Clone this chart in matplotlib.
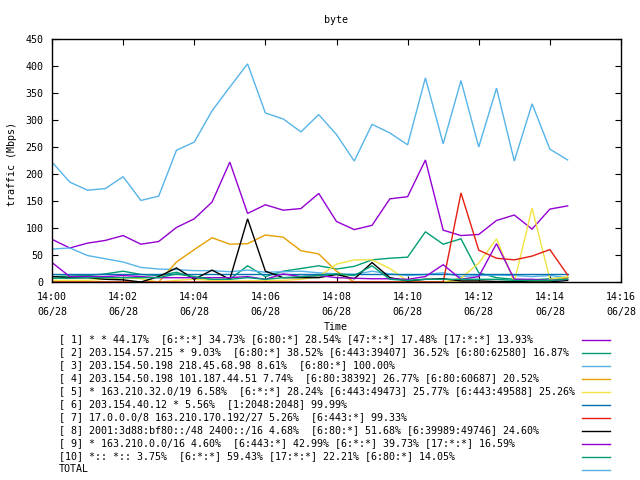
import matplotlib
matplotlib.use("Agg")
import matplotlib.pyplot as plt
from matplotlib.lines import Line2D

# ---- data -------------------------------------------------------------
times = ["14:00:00", "14:00:30", "14:01:00", "14:01:30", "14:02:00", "14:02:30",
         "14:03:00", "14:03:30", "14:04:00", "14:04:30", "14:05:00", "14:05:30",
         "14:06:00", "14:06:30", "14:07:00", "14:07:30", "14:08:00", "14:08:30",
         "14:09:00", "14:09:30", "14:10:00", "14:10:30", "14:11:00", "14:11:30",
         "14:12:00", "14:12:30", "14:13:00", "14:13:30", "14:14:00", "14:14:30"]

s1 = [79, 63, 72, 77, 86, 70, 75, 101, 117, 148, 222, 127, 143, 133, 136, 164,
      112, 97, 105, 154, 158, 226, 96, 86, 88, 114, 124, 98, 135, 141]
s2 = [10, 11, 12, 15, 20, 14, 12, 18, 8, 4, 5, 30, 10, 20, 25, 30,
      24, 29, 41, 44, 46, 93, 70, 80, 17, 8, 5, 4, 6, 8]
s3 = [61, 63, 49, 43, 37, 27, 24, 23, 21, 21, 19, 22, 18, 19, 20, 17,
      15, 14, 20, 15, 12, 14, 17, 10, 12, 13, 12, 10, 12, 8]
s4 = [0, 0, 0, 0, 0, 0, 0, 37, 60, 82, 70, 71, 87, 83, 58, 52,
      20, 0, 0, 0, 0, 0, 0, 0, 0, 0, 0, 0, 0, 8]
s5 = [3, 3, 3, 5, 8, 6, 0, 3, 5, 3, 2, 2, 3, 3, 5, 10,
      33, 41, 41, 25, 2, 0, 0, 7, 35, 80, 0, 137, 5, 10]
s6 = [15, 15, 15, 15, 15, 15, 15, 15, 15, 15, 15, 15, 15, 15, 15, 15,
      15, 15, 15, 15, 15, 15, 15, 15, 15, 15, 15, 15, 15, 15]
s7 = [0, 0, 0, 0, 0, 0, 0, 0, 0, 0, 0, 0, 0, 0, 0, 0,
      0, 0, 0, 0, 0, 0, 0, 165, 59, 44, 41, 48, 60, 13]
s8 = [10, 8, 8, 5, 4, 0, 10, 26, 5, 22, 5, 117, 20, 8, 8, 8,
      14, 6, 36, 8, 2, 5, 6, 2, 2, 1, 1, 0, 0, 3]
s9 = [36, 10, 10, 10, 12, 10, 8, 8, 8, 8, 8, 10, 5, 15, 10, 12,
      8, 7, 6, 6, 5, 10, 32, 5, 10, 71, 5, 5, 3, 5]
s10 = [7, 7, 8, 8, 8, 8, 8, 15, 10, 5, 5, 8, 5, 8, 10, 12,
       15, 12, 30, 5, 3, 5, 5, 5, 5, 5, 3, 3, 3, 5]
total = [222, 185, 170, 173, 195, 151, 159, 244, 259, 317, 361, 404, 313, 302, 278, 310,
         273, 224, 292, 276, 254, 378, 256, 373, 250, 359, 224, 330, 246, 226]

labels = [
    "[ 1] * * 44.17%  [6:*:*] 34.73% [6:80:*] 28.54% [47:*:*] 17.48% [17:*:*] 13.93%",
    "[ 2] 203.154.57.215 * 9.03%  [6:80:*] 38.52% [6:443:39407] 36.52% [6:80:62580] 16.87%",
    "[ 3] 203.154.50.198 218.45.68.98 8.61%  [6:80:*] 100.00%",
    "[ 4] 203.154.50.198 101.187.44.51 7.74%  [6:80:38392] 26.77% [6:80:60687] 20.52%",
    "[ 5] * 163.210.32.0/19 6.58%  [6:*:*] 28.24% [6:443:49473] 25.77% [6:443:49588] 25.26%",
    "[ 6] 203.154.40.12 * 5.56%  [1:2048:2048] 99.99%",
    "[ 7] 17.0.0.0/8 163.210.170.192/27 5.26%  [6:443:*] 99.33%",
    "[ 8] 2001:3d88:bf80::/48 2400::/16 4.68%  [6:80:*] 51.68% [6:39989:49746] 24.60%",
    "[ 9] * 163.210.0.0/16 4.60%  [6:443:*] 42.99% [6:*:*] 39.73% [17:*:*] 16.59%",
    "[10] *:: *:: 3.75%  [6:*:*] 59.43% [17:*:*] 22.21% [6:80:*] 14.05%",
    "TOTAL",
]
colors = ["#9400d3", "#009e73", "#56b4e9", "#e69f00", "#f0e442",
          "#0072b2", "#e51e10", "#000000", "#9400d3", "#009e73", "#56b4e9"]

xtick_vals = [0, 2, 4, 6, 8, 10, 12, 14, 16]
xtick_labels = ["14:00\n06/28", "14:02\n06/28", "14:04\n06/28", "14:06\n06/28",
                "14:08\n06/28", "14:10\n06/28", "14:12\n06/28", "14:14\n06/28",
                "14:16\n06/28"]
ytick_vals = [0, 50, 100, 150, 200, 250, 300, 350, 400, 450]

# ---- figure -----------------------------------------------------------
FONT = "DejaVu Sans Mono"
FS = 7.2
plt.rcParams["font.family"] = [FONT]
plt.rcParams["font.size"] = FS

W, H = 640, 480
fig = plt.figure(figsize=(6.4, 4.8), dpi=100)
ax = fig.add_axes([52 / W, 1 - 282 / H, (621 - 52) / W, (282 - 39) / H])


def to_min(t):
    h, m, s = (int(v) for v in t.split(":"))
    return (h - 14) * 60 + m + s / 60.0


x = [to_min(t) for t in times]
series = [s1, s2, s3, s4, s5, s6, s7, s8, s9, s10, total]
for vals, c in zip(series, colors):
    ax.plot(x, vals, color=c, lw=1.0, solid_joinstyle="miter")

ax.set_xlim(0, 16)
ax.set_ylim(0, 450)
ax.set_xticks(xtick_vals)
ax.set_xticklabels(xtick_labels, linespacing=1.55)
ax.set_yticks(ytick_vals)
ax.tick_params(direction="in", top=True, right=True, length=4, width=0.8,
               labelsize=FS)
ax.tick_params(axis="x", pad=7.5)
ax.tick_params(axis="y", pad=6)
for sp in ax.spines.values():
    sp.set_linewidth(1.0)
    sp.set_color("black")

fig.text(336 / W, 1 - 20 / H, "byte", ha="center", va="center", fontsize=FS)
fig.text(12 / W, 1 - 164 / H, "traffic (Mbps)", ha="center", va="center",
         rotation=90, fontsize=FS)
fig.text(336 / W, 1 - 327 / H, "Time", ha="center", va="center", fontsize=FS)

for i, (lab, c) in enumerate(zip(labels, colors)):
    y = 339.5 + 13.0 * i
    fig.text(59 / W, 1 - y / H, lab, ha="left", va="center", fontsize=FS)
    fig.add_artist(Line2D([582 / W, 610 / W], [1 - y / H, 1 - y / H],
                          color=c, lw=1.0, transform=fig.transFigure))

fig.savefig("out.png", dpi=100)
